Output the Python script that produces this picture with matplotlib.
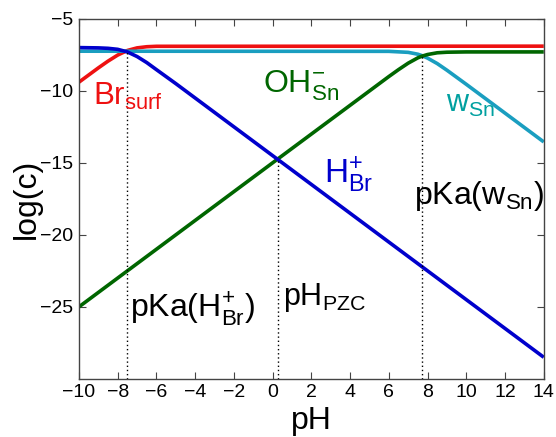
import matplotlib
matplotlib.use("Agg")
import matplotlib.pyplot as plt

plt.rcParams['font.family'] = ['Liberation Sans', 'DejaVu Sans']
plt.rcParams['mathtext.fontset'] = 'custom'
plt.rcParams['mathtext.rm'] = 'Liberation Sans'
plt.rcParams['mathtext.it'] = 'Liberation Sans'
plt.rcParams['mathtext.bf'] = 'Liberation Sans'

# H+_Br (blue)
ph_h = [-10, -9, -8.5, -8, -7.5, -7, -6.5, -6, -5, 0.3, 14]
logc_h = [-7.0, -7.02, -7.05, -7.12, -7.3, -7.62, -8.04, -8.53, -9.5, -14.8, -28.5]
# Br_surf (red)
ph_br = [-10, -9, -8.5, -8, -7.5, -7, -6.5, -6, 14]
logc_br = [-9.4, -8.41, -7.94, -7.52, -7.2, -7.02, -6.94, -6.91, -6.9]
# w_Sn (cyan)
ph_w = [-10, 6, 7, 7.5, 7.7, 8, 8.5, 9, 10, 14]
logc_w = [-7.25, -7.26, -7.33, -7.46, -7.55, -7.73, -8.11, -8.57, -9.55, -13.55]
# OH-_Sn (green)
ph_oh = [-10, 0.3, 6, 6.5, 7, 7.5, 7.7, 8, 8.5, 9, 10, 14]
logc_oh = [-25.0, -14.7, -9.01, -8.53, -8.08, -7.71, -7.6, -7.48, -7.36, -7.32, -7.3, -7.3]

# characteristic points (pKa(H_Br), pH_PZC, pKa(w_Sn)) and the levels where the dotted lines stop
marker_ph = [-7.5, 0.3, 7.7]
marker_top = [-7.25, -14.75, -7.55]

fig = plt.figure(figsize=(5.56, 4.37), dpi=100)
ax = fig.add_axes([0.142, 0.133, 0.836, 0.824])

lw = 2.6
ax.plot(ph_br, logc_br, color='#ee1111', lw=lw, solid_capstyle='butt')
ax.plot(ph_w, logc_w, color='#1a9ec0', lw=lw, solid_capstyle='butt')
ax.plot(ph_oh, logc_oh, color='#006600', lw=lw, solid_capstyle='butt')
ax.plot(ph_h, logc_h, color='#0000cc', lw=lw, solid_capstyle='butt')

for xp, yt in zip(marker_ph, marker_top):
    ax.plot([xp, xp], [-30, yt], color='black', lw=1.0, linestyle=(0, (1, 2)))

ax.set_xlim(-10, 14)
ax.set_ylim(-30, -5)
ax.set_xticks(range(-10, 15, 2))
ax.set_yticks([-25, -20, -15, -10, -5])
ax.tick_params(direction='in', length=5, width=0.8, top=True, right=True,
               labelsize=14, pad=4, color='#444444')
for s in ax.spines.values():
    s.set_color('#444444')
    s.set_linewidth(1.0)

ax.set_xlabel('pH', fontsize=23, labelpad=3)
ax.set_ylabel('log(c)', fontsize=23, labelpad=-1)

ax.text(-9.3, -11.0, r'Br$_{\rm surf}$', color='#ee1111', fontsize=22.5, ha='left', va='baseline')
ax.text(-0.5, -10.14, r'OH$^{-}_{\rm Sn}$', color='#006600', fontsize=23, ha='left', va='baseline')
ax.text(8.94, -11.46, r'w$_{\rm Sn}$', color='#00a0a0', fontsize=22, ha='left', va='baseline')
ax.text(2.65, -16.4, r'H$^{+}_{\rm Br}$', color='#0000cc', fontsize=24, ha='left', va='baseline')
ax.text(7.29, -17.85, r'pKa(w$_{\rm Sn}$)', color='black', fontsize=23, ha='left', va='baseline')
ax.text(-7.37, -25.7, r'pKa(H$^{+}_{\rm Br}$)', color='black', fontsize=23, ha='left', va='baseline')
ax.text(0.53, -24.9, r'pH$_{\rm PZC}$', color='black', fontsize=22, ha='left', va='baseline')

fig.savefig('out.png', dpi=100)
